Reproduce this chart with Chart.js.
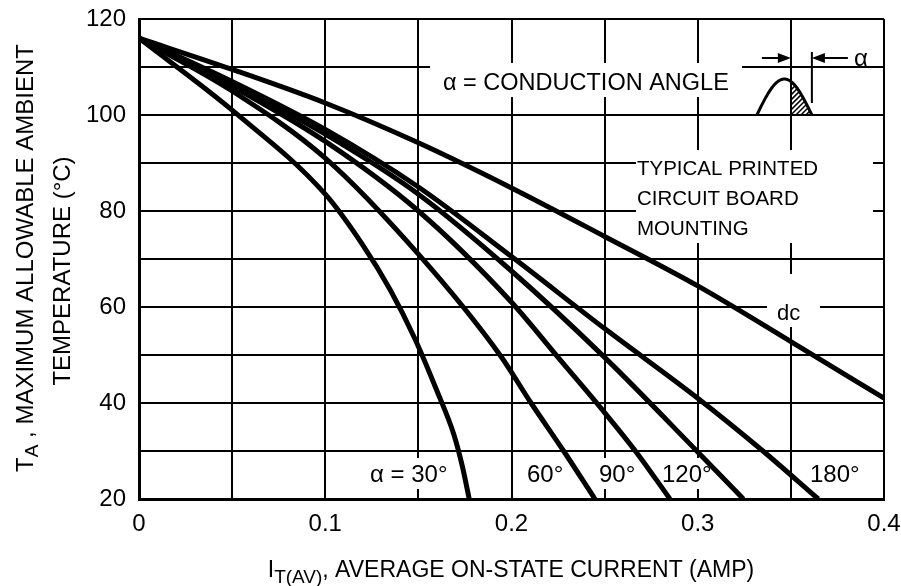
<!DOCTYPE html>
<html>
<head>
<meta charset="utf-8">
<script src="https://cdn.jsdelivr.net/npm/chart.js@4.4.1/dist/chart.umd.min.js"></script>
<style>
  body { margin: 0; background: #fff; }
  canvas { display: block; }
</style>
</head>
<body>
<canvas id="deratingChart" width="901" height="586"></canvas>
<script>
// Curve data (x = I_T(AV) in amps, y = T_A in degC)
const dcX = [0, 0.05, 0.1, 0.15, 0.2, 0.25, 0.3, 0.35, 0.4];
const dcY = [116, 109.5, 102.5, 94.2, 84.8, 74.7, 64.4, 52.8, 41];

const deg180X = [0, 0.05, 0.1, 0.15, 0.2, 0.25, 0.3, 0.335, 0.3647];
const deg180Y = [116, 107, 97, 85, 70.5, 55.5, 41, 30, 20];

const deg120X = [0, 0.05, 0.1, 0.15, 0.2, 0.25, 0.3, 0.3245];
const deg120Y = [116, 106.5, 96, 83.5, 67.5, 49.5, 29.8, 20];

const deg90X = [0, 0.05, 0.1, 0.15, 0.2, 0.225, 0.25, 0.2675, 0.2851];
const deg90Y = [116, 106, 94.5, 80, 61, 49.5, 38, 29.5, 20];

const deg60X = [0, 0.05, 0.1, 0.15, 0.1938, 0.2105, 0.228, 0.2448];
const deg60Y = [116, 105, 91, 71, 50, 40, 30, 20];

const deg30X = [0, 0.05, 0.1, 0.12, 0.135, 0.148, 0.16, 0.169, 0.1735, 0.1773];
const deg30Y = [116, 101, 83.5, 73, 63.5, 53.5, 42.5, 33.5, 27, 20];

const xTickLabels = ["0", "0.1", "0.2", "0.3", "0.4"];
const yTickLabels = ["20", "40", "60", "80", "100", "120"];

const FONT = "'Liberation Sans', Arial, sans-serif";

function toPoints(xs, ys) {
  return xs.map((x, i) => ({ x: x, y: ys[i] }));
}

function curve(label, xs, ys) {
  return {
    label: label,
    data: toPoints(xs, ys),
    showLine: true,
    borderColor: "#000",
    borderWidth: 5,
    pointRadius: 0,
    cubicInterpolationMode: "monotone",
    fill: false,
  };
}

// draw a run of text pieces (for subscripts) starting at x, baseline y
function drawParts(ctx, parts, x, y) {
  let cx = x;
  parts.forEach((p) => {
    ctx.font = p.font;
    ctx.fillText(p.t, cx, y + (p.dy || 0));
    cx += ctx.measureText(p.t).width;
  });
}
function partsWidth(ctx, parts) {
  let w = 0;
  parts.forEach((p) => {
    ctx.font = p.font;
    w += ctx.measureText(p.t).width;
  });
  return w;
}

// white boxes behind the in-plot labels (they break the grid)
const labelBoxes = [
  [430, 63, 312, 34],   // conduction angle
  [636, 150, 237, 93],  // typical PCB mounting
  [767, 274, 53, 53],   // dc
  [362, 458, 92, 31],   // 30
  [520, 458, 50, 31],   // 60
  [594, 458, 46, 31],   // 90
  [656, 458, 50, 31],   // 120
  [805, 458, 56, 31],   // 180
];

const annotationPlugin = {
  id: "annotations",
  beforeDatasetsDraw(chart) {
    const ctx = chart.ctx;
    ctx.save();
    ctx.fillStyle = "#fff";
    labelBoxes.forEach((b) => ctx.fillRect(b[0], b[1], b[2], b[3]));
    ctx.restore();
  },
  afterDatasetsDraw(chart) {
    const ctx = chart.ctx;
    const xs = chart.scales.x;
    const ys = chart.scales.y;
    ctx.save();
    ctx.fillStyle = "#000";
    ctx.textBaseline = "alphabetic";
    ctx.textAlign = "left";

    ctx.font = "23.5px " + FONT;
    ctx.fillText("\u03B1 = CONDUCTION ANGLE", 443, 90);

    ctx.font = "20.5px " + FONT;
    ctx.fillText("TYPICAL PRINTED", 637, 175);
    ctx.fillText("CIRCUIT BOARD", 637, 205);
    ctx.fillText("MOUNTING", 637, 235);

    ctx.font = "22px " + FONT;
    ctx.fillText("dc", 777, 320);

    ctx.font = "24px " + FONT;
    ctx.fillText("\u03B1 = 30\u00B0", 370, 482);
    ctx.fillText("60\u00B0", 527, 482);
    ctx.fillText("90\u00B0", 599, 482);
    ctx.fillText("120\u00B0", 662, 482);
    ctx.fillText("180\u00B0", 810, 482);

    // conduction angle sketch
    const cx = xs.getPixelForValue(0.35);
    const base = ys.getPixelForValue(100);
    const left = cx - 34, width = 55, height = 36;
    const sx = (t) => left + (width * t) / Math.PI;
    const sy = (t) => base - height * Math.sin(t);
    ctx.lineWidth = 3;
    ctx.strokeStyle = "#000";
    ctx.beginPath();
    for (let i = 0; i <= 60; i++) {
      const t = (Math.PI * i) / 60;
      if (i === 0) ctx.moveTo(sx(t), sy(t));
      else ctx.lineTo(sx(t), sy(t));
    }
    ctx.stroke();
    // hatched tail
    const tCut = ((cx - left) / width) * Math.PI;
    ctx.save();
    ctx.beginPath();
    ctx.moveTo(cx, base);
    for (let i = 0; i <= 30; i++) {
      const t = tCut + ((Math.PI - tCut) * i) / 30;
      ctx.lineTo(sx(t), sy(t));
    }
    ctx.closePath();
    ctx.clip();
    ctx.lineWidth = 1.5;
    for (let k = -60; k < 60; k += 5) {
      ctx.beginPath();
      ctx.moveTo(cx + k, base);
      ctx.lineTo(cx + k + 40, base - 40);
      ctx.stroke();
    }
    ctx.restore();
    // arrows
    const ay = 58;
    const rightEdge = left + width;
    ctx.lineWidth = 2;
    ctx.beginPath();
    ctx.moveTo(cx - 29, ay); ctx.lineTo(cx - 10, ay);
    ctx.moveTo(rightEdge + 36, ay); ctx.lineTo(rightEdge + 10, ay);
    ctx.moveTo(rightEdge, ay - 6); ctx.lineTo(rightEdge, ay + 45);
    ctx.stroke();
    ctx.beginPath();
    ctx.moveTo(cx, ay); ctx.lineTo(cx - 13, ay - 5); ctx.lineTo(cx - 13, ay + 5); ctx.closePath();
    ctx.moveTo(rightEdge, ay); ctx.lineTo(rightEdge + 13, ay - 5); ctx.lineTo(rightEdge + 13, ay + 5); ctx.closePath();
    ctx.fill();
    ctx.font = "24px " + FONT;
    ctx.fillText("\u03B1", rightEdge + 42, 66);
    ctx.restore();
  },
  afterDraw(chart) {
    const ctx = chart.ctx;
    ctx.save();
    ctx.fillStyle = "#000";
    ctx.textBaseline = "alphabetic";
    const big = "24px " + FONT;
    const sub = "19px " + FONT;

    // y axis title, two rotated lines
    const line1 = [
      { t: "T", font: big },
      { t: "A", font: sub, dy: 5 },
      { t: " , MAXIMUM ALLOWABLE AMBIENT", font: big },
    ];
    ctx.translate(33, 258);
    ctx.rotate(-Math.PI / 2);
    drawParts(ctx, line1, -partsWidth(ctx, line1) / 2, 0);
    ctx.setTransform(1, 0, 0, 1, 0, 0);

    const line2 = [{ t: "TEMPERATURE (\u00B0C)", font: big }];
    ctx.translate(70, 271);
    ctx.rotate(-Math.PI / 2);
    drawParts(ctx, line2, -partsWidth(ctx, line2) / 2, 0);
    ctx.setTransform(1, 0, 0, 1, 0, 0);

    // x axis title
    const xbig = "23px " + FONT;
    const xTitle = [
      { t: "I", font: xbig },
      { t: "T(AV)", font: "19px " + FONT, dy: 6 },
      { t: ", AVERAGE ON-STATE CURRENT (AMP)", font: xbig },
    ];
    drawParts(ctx, xTitle, 511 - partsWidth(ctx, xTitle) / 2, 577);
    ctx.restore();
  },
};

const ctx = document.getElementById("deratingChart").getContext("2d");
const chart = new Chart(ctx, {
  type: "scatter",
  data: {
    datasets: [
      curve("dc", dcX, dcY),
      curve("180\u00B0", deg180X, deg180Y),
      curve("120\u00B0", deg120X, deg120Y),
      curve("90\u00B0", deg90X, deg90Y),
      curve("60\u00B0", deg60X, deg60Y),
      curve("30\u00B0", deg30X, deg30Y),
    ],
  },
  options: {
    responsive: false,
    animation: false,
    devicePixelRatio: 1,
    layout: { padding: { top: 19, right: 17, left: 0, bottom: 0 } },
    plugins: {
      legend: { display: false },
      tooltip: { enabled: false },
    },
    scales: {
      x: {
        type: "linear",
        min: 0,
        max: 0.4,
        grid: { color: "#000", lineWidth: 2, drawTicks: false },
        border: { color: "#000", width: 3 },
        ticks: {
          stepSize: 0.05,
          autoSkip: false,
          maxRotation: 0,
          padding: 11,
          color: "#000",
          font: { size: 24, family: FONT },
          callback: function (value) {
            const i = Math.round(value * 20);
            return i % 2 === 0 ? xTickLabels[i / 2] : "";
          },
        },
        afterFit(scale) {
          scale.height = 87;
          scale.paddingLeft = 0;
          scale.paddingRight = 0;
        },
      },
      y: {
        min: 20,
        max: 120,
        grid: { color: "#000", lineWidth: 2, drawTicks: false },
        border: { color: "#000", width: 3 },
        ticks: {
          stepSize: 10,
          autoSkip: false,
          padding: 13,
          color: "#000",
          font: { size: 24, family: FONT },
          callback: function (value) {
            const i = Math.round((value - 20) / 10);
            return i % 2 === 0 ? yTickLabels[i / 2] : "";
          },
        },
        afterFit(scale) {
          scale.width = 139;
          scale.paddingTop = 0;
          scale.paddingBottom = 0;
        },
      },
    },
  },
  plugins: [annotationPlugin],
});
</script>
</body>
</html>
